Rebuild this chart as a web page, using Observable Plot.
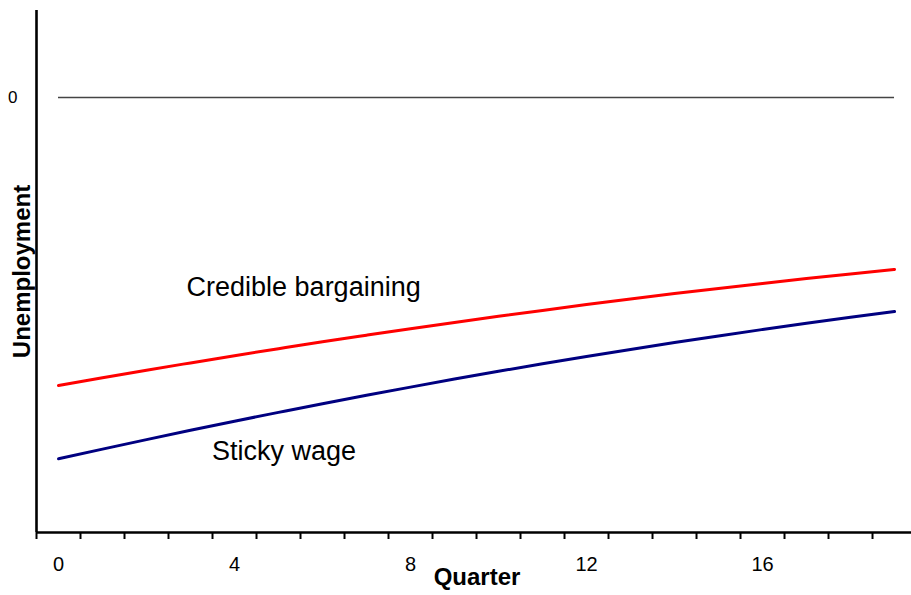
<!DOCTYPE html>
<html>
<head>
<meta charset="utf-8">
<script src="https://cdn.jsdelivr.net/npm/d3@7"></script>
<script src="https://cdn.jsdelivr.net/npm/@observablehq/plot@0.6"></script>
<style>
  html, body { margin: 0; padding: 0; background: #fff; }
  #chart svg { display: block; }
</style>
</head>
<body>
<div id="chart"></div>
<script>
const quarters = [0,1,2,3,4,5,6,7,8,9,10,11,12,13,14,15,16,17,18,19];
const credible = [-2.880,-2.803,-2.727,-2.654,-2.582,-2.512,-2.443,-2.377,-2.312,-2.249,-2.188,-2.129,-2.071,-2.015,-1.961,-1.909,-1.859,-1.811,-1.764,-1.720];
const sticky   = [-3.613,-3.516,-3.421,-3.328,-3.237,-3.149,-3.062,-2.978,-2.896,-2.816,-2.738,-2.663,-2.590,-2.519,-2.450,-2.384,-2.320,-2.257,-2.197,-2.140];
const xTickLabels = [0, 4, 8, 12, 16];
const xTickMarks = [-0.5,0.5,1.5,2.5,3.5,4.5,5.5,6.5,7.5,8.5,9.5,10.5,11.5,12.5,13.5,14.5,15.5,16.5,17.5,18.5];
const yTickLabels = [0];
const seriesNames = ["Credible bargaining", "Sticky wage"];
const seriesColors = ["#ff0000", "#000080"];
const labelQuarter = [2.91, 3.49];
const labelValue = [-1.90, -3.54];

const xDomain = [-0.5, 19.386];
const yDomain = [-4.35, 0.87];

const rows = [];
quarters.forEach((q, i) => {
  rows.push({q, v: credible[i], s: seriesNames[0]});
  rows.push({q, v: sticky[i], s: seriesNames[1]});
});
const labels = seriesNames.map((s, i) => ({s, q: labelQuarter[i], v: labelValue[i]}));

const chart = Plot.plot({
  width: 911,
  height: 595,
  marginLeft: 36,
  marginRight: 0,
  marginTop: 10,
  marginBottom: 63,
  style: {fontFamily: "'Liberation Sans', Arial, sans-serif", background: "#fff", color: "#000"},
  x: {domain: xDomain},
  y: {domain: yDomain},
  color: {domain: seriesNames, range: seriesColors},
  marks: [
    Plot.ruleY([0], {x1: quarters[0], x2: quarters[quarters.length - 1], stroke: "#444", strokeWidth: 1.3}),
    Plot.line(rows, {x: "q", y: "v", z: "s", stroke: "s", strokeWidth: 3, curve: "monotone-x"}),
    Plot.text(labels, {x: "q", y: "v", text: "s", textAnchor: "start", fontSize: 27, fill: "#000"}),
    Plot.axisX(xTickMarks, {tickSize: 7, strokeWidth: 2, tickFormat: () => "", stroke: "#000", label: null}),
    Plot.axisX(xTickLabels, {tickSize: 0, tickPadding: 24, fontSize: 20, fill: "#000", tickFormat: d => String(d), label: null}),
    Plot.axisY(yTickLabels, {tickSize: 0, tickPadding: 19, fontSize: 17, fill: "#000", tickFormat: d => String(d), label: null}),
    Plot.ruleX([xDomain[0]], {stroke: "#000", strokeWidth: 2.6}),
    Plot.ruleY([yDomain[0]], {stroke: "#000", strokeWidth: 2.6}),
    Plot.text(["Quarter"], {frameAnchor: "bottom", dy: 52, dx: 3, fontSize: 24, fontWeight: "bold", fill: "#000"}),
    Plot.text(["Unemployment"], {frameAnchor: "left", dx: -14, rotate: -90, textAnchor: "middle", fontSize: 24, fontWeight: "bold", fill: "#000"})
  ]
});
document.getElementById("chart").appendChild(chart);
</script>
</body>
</html>
